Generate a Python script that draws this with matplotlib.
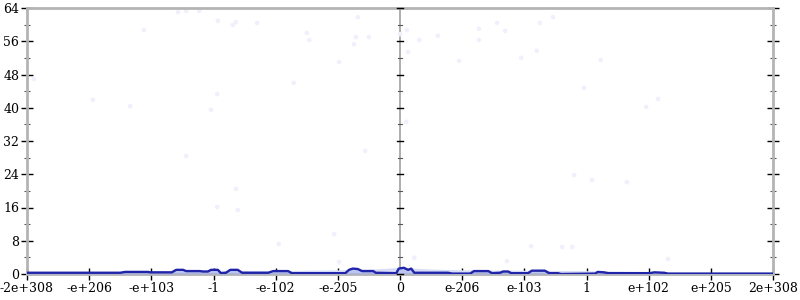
import matplotlib
matplotlib.use("Agg")
import matplotlib.pyplot as plt
from matplotlib.ticker import MultipleLocator

# x is in "tick units": each unit is one labelled step along the flonum axis
x_labels = ["-2e+308", "-e+206", "-e+103", "-1", "-e-102", "-e-205", "0",
            "e-206", "e-103", "1", "e+102", "e+205", "2e+308"]
x_ticks = list(range(-6, 7))

# dark blue mean-error line
line_x = [-6.0, -4.50, -4.42, -4.05, -4.02, -3.67, -3.60, -3.49, -3.44, -3.22,
          -3.17, -3.09, -3.04, -2.93, -2.88, -2.80, -2.73, -2.61, -2.54, -2.12,
          -2.04, -1.80, -1.74, -0.88, -0.82, -0.76, -0.68, -0.61, -0.43, -0.39,
          -0.06, -0.02, 0.06, 0.13, 0.18, 0.23, 0.77, 0.84, 1.13, 1.19,
          1.42, 1.48, 1.61, 1.66, 1.74, 1.79, 2.06, 2.12, 2.33, 2.40,
          2.54, 2.59, 3.14, 3.18, 3.28, 3.35, 4.02, 4.09, 4.25, 4.31, 6.0]
line_y = [0.3, 0.3, 0.5, 0.5, 0.4, 0.4, 1.0, 1.0, 0.7, 0.7,
          0.6, 0.6, 1.0, 1.0, 0.2, 0.3, 1.0, 1.0, 0.3, 0.3,
          0.7, 0.7, 0.2, 0.2, 1.0, 1.3, 1.2, 0.7, 0.7, 0.3,
          0.2, 1.3, 1.5, 1.0, 1.3, 0.3, 0.3, 0.1, 0.1, 0.7,
          0.7, 0.2, 0.3, 0.6, 0.6, 0.2, 0.2, 0.8, 0.8, 0.2,
          0.2, 0.0, 0.1, 0.5, 0.4, 0.2, 0.2, 0.4, 0.3, 0.1, 0.1]

# pale band of dense low-error samples
band_x = [-4.6, -4.0, -3.0, -2.0, -1.0, -0.3, 0.0, 0.5, 1.0, 2.0, 3.0, 4.0, 4.6]
band_y = [0.0, 0.6, 0.9, 0.8, 1.0, 1.3, 1.6, 1.2, 1.0, 0.9, 0.8, 0.6, 0.0]

# scattered individual error samples (very faint)
pts_x = [-5.89, -4.94, -4.34, -4.12, -3.57, -3.44, -3.23, -2.93, -3.04, -2.94,
         -2.69, -2.64, -2.30, -1.71, -1.50, -1.46, -0.98, -0.74, -0.71, -0.68,
         -0.50, 0.0, 0.11, 0.31, 0.61, 0.13, 0.95, 1.27, 1.27, 1.56,
         1.69, 1.95, 2.20, 2.25, 2.46, 2.96, 3.23, 3.96, 4.15, 0.10,
         -3.44, -0.56, -2.64, -2.94, -2.61, -1.95, -1.06, 2.80, 3.09, 3.65,
         2.11, 2.61, 2.77, -0.98, 0.23, 1.72, 4.31]
pts_y = [46.9, 41.9, 40.4, 58.7, 63.0, 63.3, 63.3, 60.9, 39.5, 43.3,
         59.9, 60.6, 60.4, 46.0, 58.0, 56.3, 51.0, 55.3, 57.0, 61.8,
         57.0, 57.7, 58.7, 56.3, 57.3, 53.4, 51.3, 59.0, 56.3, 60.4,
         58.5, 52.0, 53.7, 60.4, 61.8, 44.8, 51.5, 40.2, 42.1, 36.6,
         28.4, 29.6, 20.5, 16.1, 15.4, 7.2, 9.6, 23.8, 22.6, 22.1,
         6.7, 6.5, 6.5, 2.9, 3.9, 3.1, 3.6]

fig = plt.figure(figsize=(8, 3), dpi=100)
ax = fig.add_axes([27 / 800, 26 / 300, 746 / 800, 266 / 300])

ax.scatter(pts_x, pts_y, s=11, color="#f0f0fc", edgecolors="none", zorder=2)
ax.fill_between(band_x, 0, band_y, color="#d8ddf6", lw=0, zorder=2)
ax.fill_between(line_x, 0, line_y, color="#aab4ee", alpha=0.6, lw=0, zorder=3)
ax.plot(line_x, line_y, color="#1f24a8", lw=1.7, zorder=4)

ax.set_xlim(-6, 6)
ax.set_ylim(0, 64)

# frame like racket plot: grey lines, black ticks crossing them
for side in ["left", "right", "top", "bottom"]:
    ax.spines[side].set_color("#b4b4b4")
    ax.spines[side].set_linewidth(2)
ax.axvline(0, color="#a8a8a8", lw=1.3, zorder=1)

ax.set_xticks(x_ticks)
ax.set_xticklabels(x_labels)
ax.xaxis.set_minor_locator(MultipleLocator(0.5))
ax.yaxis.set_major_locator(MultipleLocator(8))
ax.yaxis.set_minor_locator(MultipleLocator(4))
ax.tick_params(which="major", direction="inout", length=9, width=1, color="black",
               labelsize=9, pad=1, right=True)
ax.tick_params(which="minor", direction="inout", length=5, width=0.8, color="#555555",
               right=True)
ax.tick_params(axis="x", which="minor", length=0)
for lab in ax.get_xticklabels() + ax.get_yticklabels():
    lab.set_family("DejaVu Serif")

# ticks on the zero line as well
for yv in range(0, 65, 4):
    half = 0.055 if yv % 8 == 0 else 0.03
    ax.plot([-half, half], [yv, yv], color="black" if yv % 8 == 0 else "#555555",
            lw=1 if yv % 8 == 0 else 0.8, zorder=5, clip_on=False)

fig.savefig("out.png", dpi=100)
